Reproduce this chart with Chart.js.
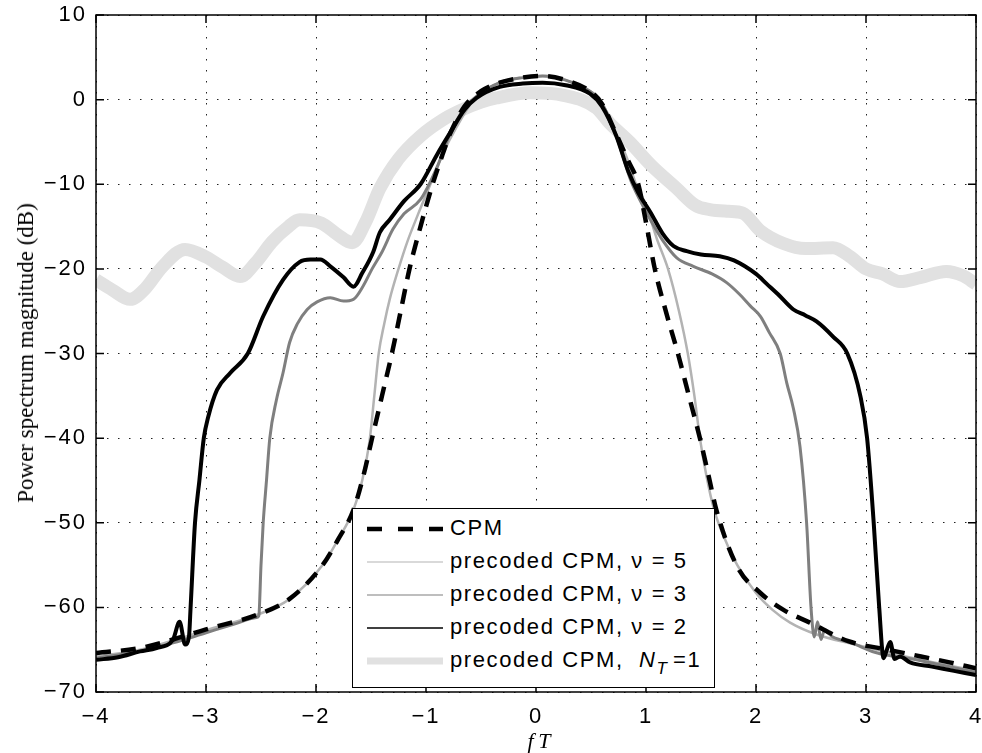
<!DOCTYPE html>
<html>
<head>
<meta charset="utf-8">
<script src="https://cdn.jsdelivr.net/npm/chart.js@4.4.1/dist/chart.umd.min.js"></script>
<style>
  body { margin: 0; background: #fff; }
  #wrap { position: relative; width: 982px; height: 753px; }
  #chart { position: absolute; left: 0; top: 0; }
  .ytitle {
    position: absolute; left: 26px; top: 353px;
    transform: translate(-50%, -50%) rotate(-90deg);
    white-space: nowrap; font: 23px 'Liberation Serif', 'Times New Roman', serif; color: #000;
  }
  .xtitle {
    position: absolute; left: 539px; top: 741px;
    transform: translate(-50%, -50%);
    white-space: nowrap; font: italic 22px 'Liberation Serif', 'Times New Roman', serif; color: #000;
  }
  .legend {
    position: absolute; left: 352px; top: 508px; width: 363px; height: 180px;
    box-sizing: border-box; border: 1px solid #000; background: #fff;
    font: 22px 'Liberation Sans', Arial, sans-serif; letter-spacing: 1.6px; color: #000;
  }
  .legend .row { position: absolute; left: 0; height: 33px; width: 100%; }
  .legend svg { position: absolute; left: 14px; top: 11px; }
  .legend span { position: absolute; left: 97px; top: 3px; white-space: nowrap; }
  .legend sub { font-size: 17px; vertical-align: -7px; letter-spacing: 0; }
</style>
</head>
<body>
<div id="wrap">
  <canvas id="chart" width="982" height="753"></canvas>
  <div class="ytitle">Power spectrum magnitude (dB)</div>
  <div class="xtitle">f&thinsp;T</div>
  <div class="legend" id="legend"></div>
</div>
<script>
// fT values and spectrum (dB)
const cpmX = [-4, -3.6, -3.3, -3.0, -2.54, -2.24, -1.94, -1.8, -1.66, -1.57, -1.49, -1.4, -1.31, -1.23, -1.15, -1.05, -0.94, -0.85, -0.78, -0.65, -0.5, -0.33, -0.12, 0.06, 0.27, 0.49, 0.6, 0.73, 0.83, 0.93, 1.0, 1.08, 1.18, 1.29, 1.39, 1.49, 1.57, 1.64, 1.83, 2.04, 2.25, 2.49, 2.84, 3.2, 3.5, 3.76, 4];
const cpmY = [-65.4, -64.8, -63.8, -62.6, -60.9, -59, -55, -52, -48.5, -44.5, -40, -35, -30, -25, -20, -15, -10, -6.5, -4, -0.8, 1.0, 2.0, 2.6, 2.8, 2.3, 1.0, -0.5, -4.1, -7, -10, -14.5, -20, -25, -30, -35, -40, -44.5, -48.5, -55.2, -58.3, -60.3, -61.8, -64, -65, -65.8, -66.5, -67.2];

const nu5X = [-4, -3.6, -3.3, -3.0, -2.54, -2.24, -1.94, -1.8, -1.66, -1.58, -1.51, -1.47, -1.43, -1.38, -1.33, -1.25, -1.17, -1.08, -0.96, -0.85, -0.72, -0.54, -0.33, -0.12, 0.06, 0.27, 0.49, 0.58, 0.73, 0.83, 0.91, 1.0, 1.1, 1.2, 1.3, 1.38, 1.44, 1.49, 1.55, 1.62, 1.72, 1.83, 2.0, 2.15, 2.31, 2.55, 2.87, 3.2, 3.5, 4];
const nu5Y = [-65.8, -65, -63.9, -62.7, -60.9, -59, -55, -52, -48.5, -45, -40, -35, -30, -26.5, -23.6, -20, -16.8, -13.8, -10, -6.5, -3.2, 0.4, 2.0, 2.6, 2.8, 2.3, 1.0, 0.1, -4.1, -7, -10, -12.5, -16.5, -20, -25, -30, -35, -40, -44.5, -48.5, -52, -55, -58.3, -60.3, -61.8, -63.2, -64.3, -65.3, -66.2, -67.5];

const nu3X = [-4, -3.6, -3.3, -3.0, -2.75, -2.54, -2.52, -2.5, -2.48, -2.45, -2.42, -2.36, -2.3, -2.24, -2.17, -2.08, -1.99, -1.87, -1.75, -1.66, -1.57, -1.49, -1.4, -1.3, -1.2, -1.05, -0.9, -0.78, -0.65, -0.54, -0.33, -0.12, 0.06, 0.27, 0.49, 0.6, 0.73, 0.86, 0.95, 1.04, 1.15, 1.28, 1.43, 1.6, 1.73, 1.85, 1.95, 2.04, 2.12, 2.22, 2.28, 2.34, 2.4, 2.46, 2.5, 2.53, 2.56, 2.59, 2.62, 2.7, 2.87, 3.08, 3.5, 4];
const nu3Y = [-66, -65.2, -64.2, -63, -62, -61.2, -61, -55, -50, -45, -40, -35.5, -32.3, -28.7, -26.5, -24.8, -23.9, -23.4, -23.8, -23.6, -22, -20, -18, -15.3, -13.5, -11.8, -8, -4, -1, 0.4, 2.0, 2.6, 2.8, 2.3, 1.0, -0.5, -4.3, -9.5, -12, -14.2, -16.6, -18.7, -19.7, -20.6, -21.6, -23, -24.4, -25.6, -27.5, -30, -33.5, -36.5, -41, -50, -60, -63.5, -61.7, -63.8, -62.8, -63.5, -64.2, -65.3, -66.3, -67.7];

const nu2X = [-4, -3.8, -3.6, -3.45, -3.3, -3.24, -3.19, -3.155, -3.14, -3.1, -3.06, -3.02, -2.98, -2.9, -2.78, -2.62, -2.48, -2.3, -2.15, -2.05, -1.96, -1.87, -1.75, -1.66, -1.58, -1.48, -1.42, -1.33, -1.2, -1.05, -0.9, -0.78, -0.65, -0.54, -0.33, -0.12, 0.06, 0.27, 0.49, 0.6, 0.73, 0.84, 0.93, 1.04, 1.15, 1.25, 1.37, 1.5, 1.67, 1.8, 2.0, 2.1, 2.2, 2.34, 2.45, 2.55, 2.7, 2.83, 2.95, 3.01, 3.07, 3.12, 3.16, 3.19, 3.22, 3.26, 3.31, 3.4, 3.6, 3.8, 4];
const nu2Y = [-66.2, -65.9, -65.2, -64.8, -63.8, -61.7, -64.4, -63.5, -60, -50, -45, -40, -37.5, -34.3, -32.3, -30, -25.6, -21.3, -19.2, -18.9, -18.9, -19.7, -21, -22.1, -20.5, -18, -15.7, -14.2, -12, -10, -6.5, -3.9, -1.2, 0.2, 1.5, 1.9, 2.0, 1.7, 0.7, -0.8, -4.3, -8.5, -11, -13.3, -15.8, -17.3, -17.9, -18.3, -18.5, -19, -20.6, -21.8, -23, -24.8, -25.5, -26.2, -28, -30, -35.1, -40, -50, -60, -66, -65, -64.1, -66.1, -65.8, -66.5, -67, -67.5, -68];

const nt1X = [-4, -3.85, -3.69, -3.55, -3.4, -3.19, -3.0, -2.85, -2.69, -2.55, -2.4, -2.25, -2.15, -1.95, -1.8, -1.67, -1.55, -1.42, -1.25, -1.05, -0.85, -0.69, -0.5, -0.36, -0.05, 0.25, 0.55, 0.67, 0.85, 1.05, 1.28, 1.45, 1.58, 1.75, 1.88, 2.04, 2.25, 2.45, 2.7, 2.85, 3.0, 3.15, 3.31, 3.5, 3.73, 3.88, 4];
const nt1Y = [-21.3, -22.5, -23.6, -22.3, -19.8, -17.7, -18.6, -19.8, -20.9, -19.3, -16.8, -15, -14.2, -14.6, -16, -16.9, -14.5, -10.5, -7, -4.3, -2.4, -1.3, -0.3, 0.2, 0.8, 0.5, -1.0, -2.8, -5, -7.8, -10.5, -12.5, -13, -13.2, -13.4, -15.5, -17, -17.6, -17.5, -18.5, -20, -20.6, -21.5, -21, -20.3, -20.8, -21.8];

const xTicks = [-4, -3, -2, -1, 0, 1, 2, 3, 4];
const yTicks = [10, 0, -10, -20, -30, -40, -50, -60, -70];

const legendItems = [
  { html: 'CPM', color: '#000', width: 4.5, dash: '15 16' },
  { html: 'precoded CPM, &nu; = 5', color: '#b3b3b3', width: 1.2 },
  { html: 'precoded CPM, &nu; = 3', color: '#7f7f7f', width: 1.2 },
  { html: 'precoded CPM, &nu; = 2', color: '#000', width: 1.4 },
  { html: 'precoded CPM,&nbsp; <i>N</i><sub><i>T</i></sub>&thinsp;=1', color: '#e1e1e1', width: 7 }
];

function toPoints(xs, ys) {
  return xs.map((x, i) => ({ x: x, y: ys[i] }));
}

function minusLabel(v) {
  return v < 0 ? '\u2212' + Math.abs(v) : String(v);
}

// MATLAB-style box with inward ticks
const frame = {
  id: 'frame',
  beforeDraw(chart) {
    chart.ctx.letterSpacing = '2px';
  },
  afterDatasetsDraw(chart) {
    const { ctx, chartArea: a, scales } = chart;
    ctx.save();
    ctx.letterSpacing = '0px';
    ctx.strokeStyle = '#000';
    ctx.lineWidth = 1.5;
    ctx.strokeRect(a.left, a.top, a.right - a.left, a.bottom - a.top);
    ctx.beginPath();
    xTicks.forEach(v => {
      const px = scales.x.getPixelForValue(v);
      ctx.moveTo(px, a.bottom); ctx.lineTo(px, a.bottom - 8);
      ctx.moveTo(px, a.top); ctx.lineTo(px, a.top + 8);
    });
    yTicks.forEach(v => {
      const py = scales.y.getPixelForValue(v);
      ctx.moveTo(a.left, py); ctx.lineTo(a.left + 8, py);
      ctx.moveTo(a.right, py); ctx.lineTo(a.right - 8, py);
    });
    ctx.stroke();
    ctx.restore();
  }
};

function line(label, xs, ys, color, width, order, dash) {
  return {
    label: label,
    data: toPoints(xs, ys),
    borderColor: color,
    borderWidth: width,
    borderDash: dash || [],
    pointRadius: 0,
    fill: false,
    cubicInterpolationMode: 'monotone',
    borderJoinStyle: 'round',
    order: order
  };
}

new Chart(document.getElementById('chart'), {
  type: 'line',
  data: {
    datasets: [
      line('CPM', cpmX, cpmY, '#000', 4.5, 1, [15, 10]),
      line('precoded CPM, \u03bd = 5', nu5X, nu5Y, '#b3b3b3', 2.5, 4),
      line('precoded CPM, \u03bd = 3', nu3X, nu3Y, '#7f7f7f', 3, 3),
      line('precoded CPM, \u03bd = 2', nu2X, nu2Y, '#000', 4, 2),
      line('precoded CPM, N_T=1', nt1X, nt1Y, '#e1e1e1', 13, 5)
    ]
  },
  options: {
    responsive: false,
    animation: false,
    devicePixelRatio: 1,
    layout: { padding: { top: 15, right: 6, left: 0, bottom: 0 } },
    plugins: { legend: { display: false }, tooltip: { enabled: false } },
    scales: {
      x: {
        type: 'linear', min: -4, max: 4,
        afterFit(scale) {
          scale.height = 61;
          scale.paddingLeft = 0;
          scale.paddingRight = 0;
        },
        afterBuildTicks(scale) { scale.ticks = xTicks.map(v => ({ value: v })); },
        ticks: {
          padding: 12, color: '#000',
          font: { family: "'Liberation Sans', Arial, sans-serif", size: 22 },
          callback: minusLabel
        },
        grid: { color: '#222', lineWidth: 1, drawTicks: false },
        border: { display: false, dash: [1.5, 9.5] }
      },
      y: {
        type: 'linear', min: -70, max: 10,
        afterFit(scale) {
          scale.width = 96;
          scale.paddingTop = 0;
          scale.paddingBottom = 0;
        },
        afterBuildTicks(scale) { scale.ticks = yTicks.map(v => ({ value: v })); },
        ticks: {
          padding: 9, color: '#000',
          font: { family: "'Liberation Sans', Arial, sans-serif", size: 22 },
          callback: minusLabel
        },
        grid: { color: '#222', lineWidth: 1, drawTicks: false },
        border: { display: false, dash: [1.5, 9.5] }
      }
    }
  },
  plugins: [frame]
});

// legend drawn as html so the subscript stays real text
const legendBox = document.getElementById('legend');
legendItems.forEach((item, i) => {
  const row = document.createElement('div');
  row.className = 'row';
  row.style.top = (3 + i * 33) + 'px';
  const dashAttr = item.dash ? ' stroke-dasharray="' + item.dash + '"' : '';
  row.innerHTML =
    '<svg width="76" height="12"><line x1="0" y1="6" x2="76" y2="6" stroke="' + item.color +
    '" stroke-width="' + item.width + '"' + dashAttr + '/></svg>' +
    '<span>' + item.html + '</span>';
  legendBox.appendChild(row);
});
</script>
</body>
</html>
